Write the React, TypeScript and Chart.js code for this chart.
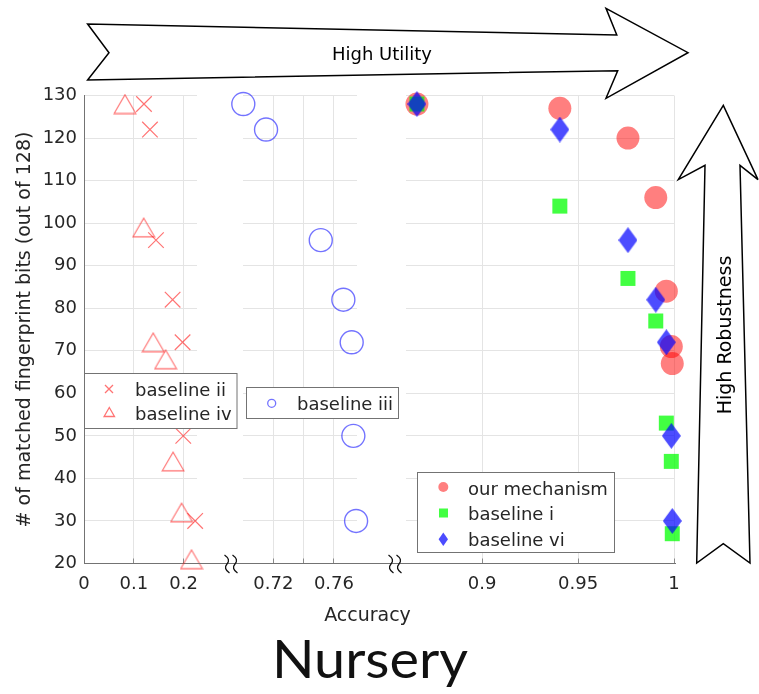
import { useEffect, useRef } from "react";
import { Chart, registerables } from "chart.js";

Chart.register(...registerables);

// ---------------- data ----------------
// y: number of matched fingerprint bits (out of 128)
const Y_MIN = 20;
const Y_MAX = 130;
const Y_STEP = 10;

// left panel: accuracy 0 – 0.23
const LEFT_RANGE = [0, 0.227];
const LEFT_TICKS = [0, 0.1, 0.2];
const LEFT_TICK_LABELS = ["0", "0.1", "0.2"];
const BASELINE_II_ACC = [0.1205, 0.1325, 0.1446, 0.178, 0.198, 0.1994, 0.2233];
const BASELINE_II_BITS = [128, 122, 96, 82, 72, 50, 30];
const BASELINE_IV_ACC = [0.0823, 0.12, 0.139, 0.164, 0.179, 0.196, 0.216];
const BASELINE_IV_BITS = [128, 99, 72, 68, 44, 32, 21];

// middle panel: accuracy 0.70 – 0.775
const MID_RANGE = [0.7, 0.7752];
const MID_TICKS = [0.72, 0.74, 0.76];
const MID_TICK_LABELS = ["0.72", "", "0.76"];
const BASELINE_III_ACC = [0.7002, 0.7152, 0.7513, 0.7662, 0.7717, 0.7728, 0.7746];
const BASELINE_III_BITS = [128, 122, 96, 82, 72, 50, 30];

// right panel: accuracy 0.86 – 1
const RIGHT_RANGE = [0.8603, 1.0];
const RIGHT_TICKS = [0.9, 0.95, 1];
const RIGHT_TICK_LABELS = ["0.9", "0.95", "1"];
const WATERMARK_ACC = [0.866, 0.9405, 0.976, 0.9905, 0.996, 0.9986, 0.9991];
const OUR_MECHANISM_BITS = [128, 127, 120, 106, 84, 71, 67];
const BASELINE_I_BITS = [128, 104, 87, 77, 53, 44, 27];
const BASELINE_VI_BITS = [128, 122, 96, 82, 72, 50, 30];

// ---------------- layout / style ----------------
const W = 759;
const H = 694;
const PLOT_TOP = 95.5;
const PLOT_BOTTOM = 563.5;
const X_AXIS_H = 40;
const Y_AXIS_W = 84;

const FONT = "'DejaVu Sans', sans-serif";
const TEXT = "#262626";
const GRID = "#e4e4e4";
const AXIS = "#737373";

const RED_LINE = "rgba(255,0,0,0.55)";
const BLUE_LINE = "rgba(0,0,255,0.55)";
const RED_FILL = "rgba(255,0,0,0.5)";
const GREEN_FILL = "rgba(0,255,0,0.74)";
const BLUE_FILL = "rgba(0,0,255,0.7)";

const zip = (xs: number[], ys: number[]) => xs.map((x, i) => ({ x, y: ys[i] }));

function diamondMarker(w: number, h: number, fill: string) {
  const c = document.createElement("canvas");
  c.width = w;
  c.height = h;
  const g = c.getContext("2d")!;
  g.fillStyle = fill;
  g.beginPath();
  g.moveTo(w / 2, 0);
  g.lineTo(w, h / 2);
  g.lineTo(w / 2, h);
  g.lineTo(0, h / 2);
  g.closePath();
  g.fill();
  return c;
}

function triangleMarker(w: number, h: number, stroke: string, lw: number) {
  const c = document.createElement("canvas");
  c.width = w;
  c.height = h;
  const g = c.getContext("2d")!;
  g.strokeStyle = stroke;
  g.lineWidth = lw;
  g.lineJoin = "miter";
  g.beginPath();
  g.moveTo(w / 2, lw);
  g.lineTo(w - lw, h - lw);
  g.lineTo(lw, h - lw);
  g.closePath();
  g.stroke();
  return c;
}

type PanelOpts = {
  datasets: any[];
  range: number[];
  ticks: number[];
  tickLabels: string[];
  left: number;
  right: number;
  showY: boolean;
};

function buildConfig(o: PanelOpts): any {
  const yTicks: number[] = [];
  for (let v = Y_MIN; v <= Y_MAX; v += Y_STEP) yTicks.push(v);
  return {
    type: "scatter",
    data: { datasets: o.datasets },
    options: {
      responsive: false,
      animation: false,
      events: [],
      layout: {
        padding: {
          left: o.showY ? 0 : o.left,
          right: W - o.right,
          top: PLOT_TOP,
          bottom: H - PLOT_BOTTOM - X_AXIS_H,
        },
      },
      plugins: { legend: { display: false }, tooltip: { enabled: false } },
      scales: {
        x: {
          type: "linear",
          min: o.range[0],
          max: o.range[1],
          afterBuildTicks: (s: any) => {
            s.ticks = o.ticks.map((v) => ({ value: v }));
          },
          afterFit: (s: any) => {
            s.height = X_AXIS_H;
          },
          grid: {
            color: GRID,
            lineWidth: 1,
            drawTicks: true,
            tickLength: -5,
            tickColor: "#8a8a8a",
          },
          border: { display: true, color: AXIS, width: 1 },
          ticks: {
            padding: 15,
            color: TEXT,
            font: { family: FONT, size: 18 },
            maxRotation: 0,
            autoSkip: false,
            callback: (_v: any, i: number) => o.tickLabels[i],
          },
        },
        y: {
          type: "linear",
          min: Y_MIN,
          max: Y_MAX,
          afterBuildTicks: (s: any) => {
            s.ticks = yTicks.map((v) => ({ value: v }));
          },
          afterFit: (s: any) => {
            s.width = o.showY ? Y_AXIS_W : 0;
          },
          grid: { color: GRID, lineWidth: 1, drawTicks: false },
          border: { display: o.showY, color: AXIS, width: 1 },
          ticks: {
            display: o.showY,
            padding: 7,
            color: TEXT,
            font: { family: FONT, size: 18 },
          },
          title: {
            display: o.showY,
            text: "# of matched fingerprint bits (out of 128)",
            color: TEXT,
            font: { family: FONT, size: 19 },
            padding: { top: 13.6, bottom: 0 },
          },
        },
      },
    },
  };
}

function Panel({ make }: { make: () => any }) {
  const ref = useRef<HTMLCanvasElement>(null);
  useEffect(() => {
    const chart = new Chart(ref.current!, make());
    return () => chart.destroy();
  }, []);
  return (
    <canvas
      ref={ref}
      width={W}
      height={H}
      style={{ position: "absolute", left: 0, top: 0 }}
    />
  );
}

const leftPanel = () =>
  buildConfig({
    range: LEFT_RANGE,
    ticks: LEFT_TICKS,
    tickLabels: LEFT_TICK_LABELS,
    left: 84,
    right: 197,
    showY: true,
    datasets: [
      {
        label: "baseline ii",
        data: zip(BASELINE_II_ACC, BASELINE_II_BITS),
        pointStyle: "crossRot",
        pointRadius: 11,
        borderColor: RED_LINE,
        borderWidth: 1.2,
        backgroundColor: "transparent",
        clip: false,
      },
      {
        label: "baseline iv",
        data: zip(BASELINE_IV_ACC, BASELINE_IV_BITS),
        pointStyle: triangleMarker(24, 21, RED_LINE, 1.2),
        clip: false,
      },
    ],
  });

const midPanel = () =>
  buildConfig({
    range: MID_RANGE,
    ticks: MID_TICKS,
    tickLabels: MID_TICK_LABELS,
    left: 243,
    right: 357,
    showY: false,
    datasets: [
      {
        label: "baseline iii",
        data: zip(BASELINE_III_ACC, BASELINE_III_BITS),
        pointStyle: "circle",
        pointRadius: 11.5,
        borderColor: BLUE_LINE,
        borderWidth: 1.4,
        backgroundColor: "transparent",
        clip: false,
      },
    ],
  });

const rightPanel = () =>
  buildConfig({
    range: RIGHT_RANGE,
    ticks: RIGHT_TICKS,
    tickLabels: RIGHT_TICK_LABELS,
    left: 406,
    right: 674,
    showY: false,
    datasets: [
      {
        label: "baseline vi",
        order: 0,
        data: zip(WATERMARK_ACC, BASELINE_VI_BITS),
        pointStyle: diamondMarker(19, 26, BLUE_FILL),
        clip: false,
      },
      {
        label: "baseline i",
        order: 1,
        data: zip(WATERMARK_ACC, BASELINE_I_BITS),
        pointStyle: "rect",
        pointRadius: 10.6,
        borderWidth: 0,
        backgroundColor: GREEN_FILL,
        clip: false,
      },
      {
        label: "our mechanism",
        order: 2,
        data: zip(WATERMARK_ACC, OUR_MECHANISM_BITS),
        pointStyle: "circle",
        pointRadius: 11.5,
        borderWidth: 0,
        backgroundColor: RED_FILL,
        clip: false,
      },
    ],
  });

function Squiggle({ cx }: { cx: number }) {
  return (
    <path
      d={`M ${cx - 2.5} 555 Q ${cx + 4} 559.5 ${cx} 564 Q ${cx - 4} 568.5 ${cx + 2.5} 573`}
      fill="none"
      stroke="#111"
      strokeWidth={1.3}
    />
  );
}

function Overlay() {
  const txt = { fontFamily: FONT, fill: TEXT } as const;
  const utility = [
    [87.6, 24], [109, 52.7], [87.6, 80], [617.7, 70.7], [606, 98.3],
    [688, 52.7], [606, 8.3], [616.8, 35],
  ];
  const robustness = [
    [723.3, 105.4], [678.3, 179.6], [705, 165.3], [696.7, 563], [723.3, 543.7],
    [750, 563], [740, 165.3], [758, 179.6],
  ];
  const pts = (p: number[][]) => p.map((q) => q.join(",")).join(" ");
  return (
    <svg
      width={W}
      height={H}
      style={{ position: "absolute", left: 0, top: 0, pointerEvents: "none" }}
    >
      {/* axis line across the breaks */}
      <line x1={197} x2={243} y1={563.5} y2={563.5} stroke={AXIS} strokeWidth={1} />
      <line x1={357} x2={406} y1={563.5} y2={563.5} stroke={AXIS} strokeWidth={1} />
      <line x1={674} x2={676} y1={563.5} y2={563.5} stroke={AXIS} strokeWidth={1} />
      <Squiggle cx={227} />
      <Squiggle cx={235} />
      <Squiggle cx={391} />
      <Squiggle cx={399} />

      {/* direction arrows */}
      <polygon points={pts(utility)} fill="#fff" stroke="#000" strokeWidth={1.5} strokeLinejoin="miter" />
      <text x={382} y={59.5} textAnchor="middle" style={{ ...txt, fill: "#000", fontSize: 18 }}>
        High Utility
      </text>
      <polygon points={pts(robustness)} fill="#fff" stroke="#000" strokeWidth={1.5} strokeLinejoin="miter" />
      <text
        x={0}
        y={0}
        textAnchor="middle"
        transform="translate(730.5 335) rotate(-90)"
        style={{ ...txt, fill: "#000", fontSize: 19 }}
      >
        High Robustness
      </text>

      {/* legend: left panel */}
      <rect x={84.5} y={373.5} width={152.5} height={55} fill="#fff" stroke={AXIS} strokeWidth={1} />
      <path d="M 105 385 L 113 393 M 113 385 L 105 393" stroke={RED_LINE} strokeWidth={1.3} />
      <text x={135} y={395.5} style={{ ...txt, fontSize: 18 }}>baseline ii</text>
      <polygon points="109.3,407.5 114.5,416.5 104.1,416.5" fill="none" stroke={RED_LINE} strokeWidth={1.3} />
      <text x={135} y={420} style={{ ...txt, fontSize: 18 }}>baseline iv</text>

      {/* legend: middle panel */}
      <rect x={246.5} y={387.5} width={152} height={31} fill="#fff" stroke={AXIS} strokeWidth={1} />
      <circle cx={271.7} cy={403.3} r={4} fill="none" stroke={BLUE_LINE} strokeWidth={1.3} />
      <text x={297} y={410} style={{ ...txt, fontSize: 18 }}>baseline iii</text>

      {/* legend: right panel */}
      <rect x={417.5} y={472.5} width={197} height={80} fill="#fff" stroke={AXIS} strokeWidth={1} />
      <circle cx={443.3} cy={487} r={5} fill={RED_FILL} />
      <text x={468} y={494.5} style={{ ...txt, fontSize: 18 }}>our mechanism</text>
      <rect x={439} y={508.5} width={9} height={9} fill={GREEN_FILL} />
      <text x={468} y={520} style={{ ...txt, fontSize: 18 }}>baseline i</text>
      <polygon points="443.3,532.5 448,539.3 443.3,546 438.6,539.3" fill={BLUE_FILL} />
      <text x={468} y={546} style={{ ...txt, fontSize: 18 }}>baseline vi</text>

      {/* axis title and caption */}
      <text x={367.5} y={621} textAnchor="middle" style={{ ...txt, fontSize: 19 }}>
        Accuracy
      </text>
      <text
        x={370}
        y={678}
        textAnchor="middle"
        textLength={196}
        lengthAdjust="spacingAndGlyphs"
        style={{ fontFamily: "Lato, 'Open Sans', sans-serif", fontSize: 52, fill: "#111" }}
      >
        Nursery
      </text>
    </svg>
  );
}

export default function App() {
  return (
    <div
      style={{
        position: "absolute",
        left: 0,
        top: 0,
        width: W,
        height: H,
        background: "#fff",
        overflow: "hidden",
      }}
    >
      <Panel make={leftPanel} />
      <Panel make={midPanel} />
      <Panel make={rightPanel} />
      <Overlay />
    </div>
  );
}
